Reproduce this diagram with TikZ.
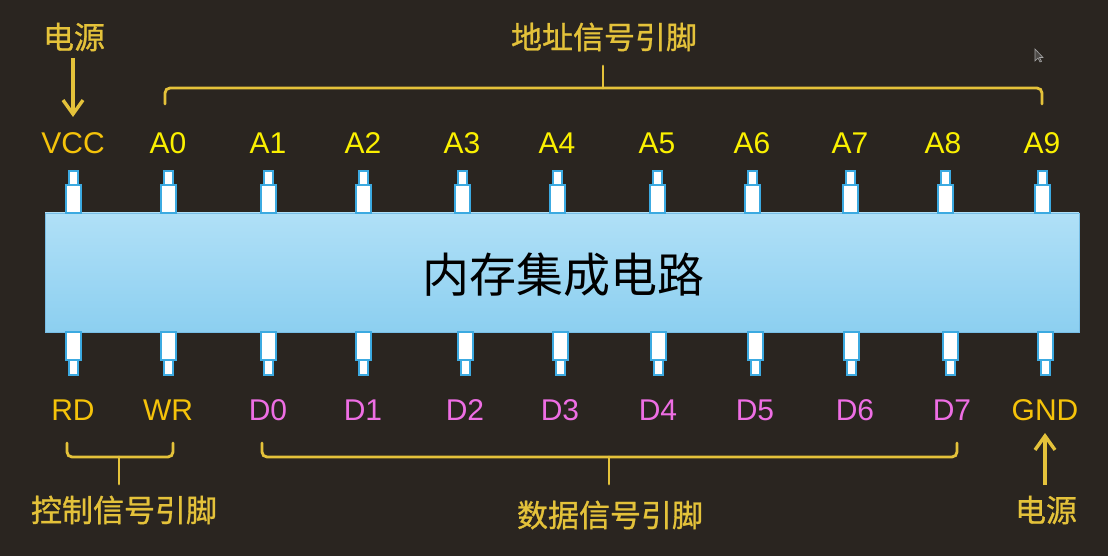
\documentclass[tikz,border=0pt]{standalone}
\usepackage{fontspec}
\setmainfont{Liberation Sans}
\newfontfamily\cjk{Noto Sans CJK SC}
\newfontfamily\cjkl[FakeBold=0.9]{Noto Sans CJK SC}
\usetikzlibrary{arrows.meta}
\definecolor{bgc}{RGB}{42,37,32}
\definecolor{ayel}{RGB}{250,240,0}
\definecolor{oyel}{RGB}{245,195,10}
\definecolor{pinkc}{RGB}{238,110,228}
\definecolor{gold}{RGB}{228,194,58}
\definecolor{chiptop}{RGB}{176,224,247}
\definecolor{chipbot}{RGB}{140,207,240}
\definecolor{chipedge}{RGB}{120,190,230}
\definecolor{pinedge}{RGB}{60,170,225}
\tikzset{
  pinpart/.style={draw=pinedge, fill=white, line width=2pt},
  lab/.style={font=\fontsize{30}{30}\selectfont, inner sep=0pt, anchor=base},
  alab/.style={lab, text=ayel},
  olab/.style={lab, text=oyel},
  dlab/.style={lab, text=pinkc},
  cjklab/.style={text=gold, font=\cjkl\fontsize{31}{31}\selectfont, inner sep=0pt},
  brace/.style={draw=gold, line width=2.8pt, rounded corners=5pt, line cap=round},
  parrow/.style={draw=gold, line width=3.4pt, -{Straight Barb[length=14pt,width=20pt,line width=3.4pt]}}
}
\begin{document}
\begin{tikzpicture}[x=1pt,y=-1pt]
\fill[bgc] (0,0) rectangle (1108,556);
\useasboundingbox (0,0) rectangle (1108,556);
% chip
\shade[top color=chiptop, bottom color=chipbot] (45,213) rectangle (1079,332);
\draw[chipedge, line width=0.8pt] (45,213) rectangle (1079,332);
\node[inner sep=0pt, font=\cjk\fontsize{47}{47}\selectfont, text=black] (chip) at (563,275) {内存集成电路};
% top pins
\foreach \x/\n in {73/pv,168/p0,268/p1,363/p2,462/p3,557/p4,657/p5,752/p6,850/p7,945/p8,1042/p9} {
  \draw[pinpart] (\x-4.5,171) rectangle (\x+4.5,185);
  \draw[pinpart] (\x-7.5,185) rectangle (\x+7.5,213);
  \coordinate (\n) at (\x,171);
}
% bottom pins
\foreach \x/\n in {73/qr,168/qw,268/q0,363/q1,465/q2,560/q3,658/q4,755/q5,851/q6,950/q7,1045/qg} {
  \draw[pinpart] (\x-7.5,332) rectangle (\x+7.5,360);
  \draw[pinpart] (\x-4.5,360) rectangle (\x+4.5,375);
  \coordinate (\n) at (\x,375);
}
% top labels
\node[olab] (vcc) at (73,154) {VCC};
\foreach \x/\t in {168/0,268/1,363/2,462/3,557/4,657/5,752/6,850/7,943/8,1042/9}
  \node[alab] (a\t) at (\x,154) {A\t};
% bottom labels
\node[olab] (rd) at (73,420) {RD};
\node[olab] (wr) at (168,420) {WR};
\foreach \x/\t in {268/0,363/1,465/2,560/3,658/4,755/5,855/6,952/7}
  \node[dlab] (d\t) at (\x,420) {D\t};
\node[olab] (gnd) at (1045,420) {GND};
% power labels and arrows
\node[cjklab] (pwr1) at (74,37) {电源};
\node[cjklab] (pwr2) at (1046,510) {电源};
\draw[parrow] (73,58) -- (73,117);
\draw[parrow] (1045,485) -- (1045,433);
% address brace
\draw[brace] (165,104) -- (165,88) -- (1042,88) -- (1042,104);
\draw[brace] (603,88) -- (603,66);
\node[cjklab] (addr) at (604,37) {地址信号引脚};
% control brace
\draw[brace] (67,443) -- (67,457) -- (173,457) -- (173,443);
\draw[brace] (119,457) -- (119,484);
\node[cjklab] (ctrl) at (124,510) {控制信号引脚};
% data brace
\draw[brace] (262,443) -- (262,457) -- (957,457) -- (957,443);
\draw[brace] (609,457) -- (609,484);
\node[cjklab] (data) at (610,515) {数据信号引脚};
% mouse cursor
\draw[fill=bgc!60!gray, draw=gray!70, line width=0.6pt] (1035,49) -- (1035,61) -- (1038,58) -- (1040,62) -- (1041.5,61.3) -- (1039.5,57.5) -- (1043,57.5) -- cycle;
\end{tikzpicture}
\end{document}
